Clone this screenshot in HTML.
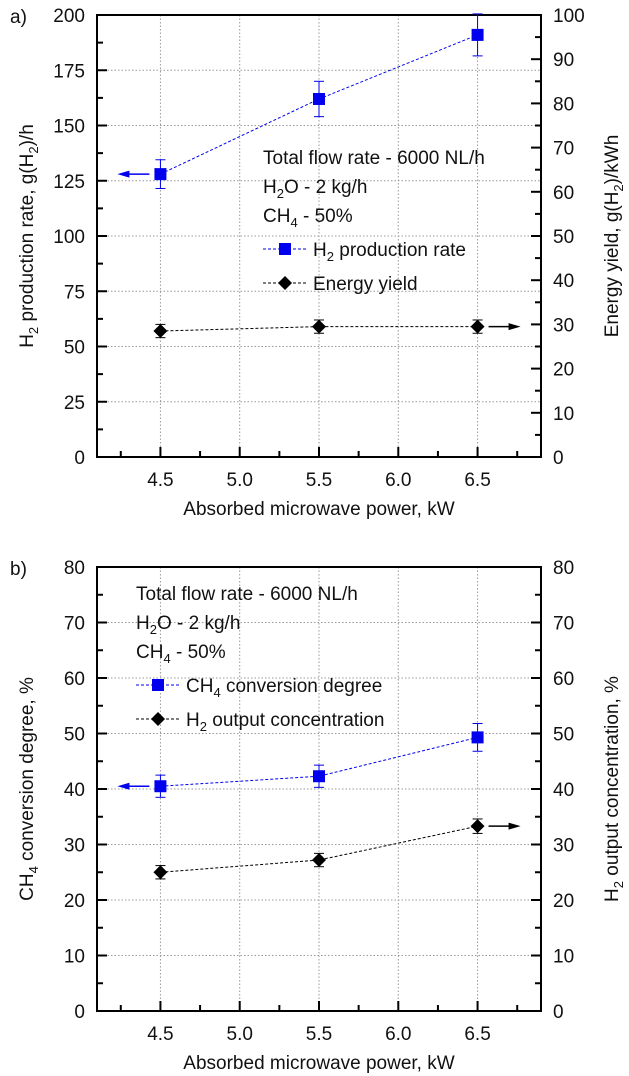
<!DOCTYPE html>
<html><head><meta charset="utf-8"><style>
html,body{margin:0;padding:0;background:#fff;}
svg{display:block;font-family:"Liberation Sans",Arial,sans-serif;}
</style></head><body>
<svg id="fig" width="629" height="1076" viewBox="0 0 629 1076"></svg>
<script>
const xCats=[4.5,5.5,6.5];
const xTicks=["4.5","5.0","5.5","6.0","6.5"];
const aLeftVals=[128,162,191];
const aLeftErr=[6.5,8,9.5];
const aRightVals=[28.5,29.5,29.5];
const aRightErr=[1.5,1.5,1.5];
const bLeftVals=[40.5,42.3,49.3];
const bLeftErr=[2,2,2.5];
const bRightVals=[25,27.2,33.3];
const bRightErr=[1.2,1.2,1.3];
const aLeftTicks=[0,25,50,75,100,125,150,175,200];
const aRightTicks=[0,10,20,30,40,50,60,70,80,90,100];
const bTicks=[0,10,20,30,40,50,60,70,80];

const NS="http://www.w3.org/2000/svg";
const svg=document.getElementById('fig');
const FS=19, SS=13;
function mk(tag,attrs,parent){const e=document.createElementNS(NS,tag);for(const k in attrs)e.setAttribute(k,attrs[k]);(parent||svg).appendChild(e);return e;}

function panel(o){
  const g=mk('g',{});
  
  
  const L=97,R=541,T=o.top,B=o.bottom;
  const sx=v=>L+(v-4.1)/(6.9-4.1)*(R-L);
  const syL=v=>B-(v-0)/(o.lmax)*(B-T);
  const syR=v=>B-(v-0)/(o.rmax)*(B-T);
  for(const t of xTicks){const x=sx(+t);mk('line',{x1:x,x2:x,y1:T,y2:B,stroke:'#999','stroke-dasharray':'1.5,2','stroke-width':1},g);}
  for(const t of o.gridTicks){if(t===0)continue;const y=syL(t);mk('line',{x1:L,x2:R,y1:y,y2:y,stroke:'#999','stroke-dasharray':'1.5,2','stroke-width':1},g);}
  const fr=mk('rect',{x:L,y:T,width:R-L,height:B-T,fill:'none',stroke:'#000','stroke-width':2},g);
  
  
  for(let v=4.25;v<6.9;v+=0.25){const x=sx(v);const maj=Math.abs(v*2-Math.round(v*2))<1e-6;mk('line',{x1:x,x2:x,y1:B,y2:B-(maj?10:6),stroke:'#000','stroke-width':2},g);}
  for(const t of xTicks){const tx=mk('text',{x:sx(+t),y:B+29,'font-size':FS,'text-anchor':'middle',fill:'#111'},g);tx.textContent=t;
    }
  const lt=o.leftTicks, ls=lt[1]-lt[0];
  for(let i=0;i<lt.length;i++){const y=syL(lt[i]);mk('line',{x1:L,x2:L+10,y1:y,y2:y,stroke:'#000','stroke-width':2},g);
    if(i<lt.length-1){const ym=syL(lt[i]+ls/2);mk('line',{x1:L,x2:L+6,y1:ym,y2:ym,stroke:'#000','stroke-width':2},g);}
    const tx=mk('text',{x:L-12,y:y+7,'font-size':FS,'text-anchor':'end',fill:'#111'},g);tx.textContent=lt[i];
    }
  const rt=o.rightTicks, rs=rt[1]-rt[0];
  for(let i=0;i<rt.length;i++){const y=syR(rt[i]);mk('line',{x1:R,x2:R-10,y1:y,y2:y,stroke:'#000','stroke-width':2},g);
    if(i<rt.length-1){const ym=syR(rt[i]+rs/2);mk('line',{x1:R,x2:R-6,y1:ym,y2:ym,stroke:'#000','stroke-width':2},g);}
    const tx=mk('text',{x:R+12,y:y+7,'font-size':FS,'text-anchor':'start',fill:'#111'},g);tx.textContent=rt[i];
    }
  function series(vals,err,sy,color,shape,nm){
    const pts=vals.map((v,i)=>sx(xCats[i])+','+sy(v)).join(' ');
    const pl=mk('polyline',{points:pts,fill:'none',stroke:color,'stroke-width':1,'stroke-dasharray':'3,2'},g);
    
    vals.forEach((v,i)=>{const x=sx(xCats[i]),y=sy(v),y1=sy(v+err[i]),y2=sy(v-err[i]);
      mk('line',{x1:x,x2:x,y1:y1,y2:y2,stroke:color,'stroke-width':1},g);
      mk('line',{x1:x-5,x2:x+5,y1:y1,y2:y1,stroke:color,'stroke-width':1},g);
      mk('line',{x1:x-5,x2:x+5,y1:y2,y2:y2,stroke:color,'stroke-width':1},g);
      let m;
      if(shape==='sq')m=mk('rect',{x:x-6,y:y-6,width:12,height:12,fill:color},g);
      else m=mk('polygon',{points:`${x},${y-7} ${x+7},${y} ${x},${y+7} ${x-7},${y}`,fill:color},g);
      });
  }
  series(o.lv,o.le,syL,'#0000ee','sq',o.lname);
  series(o.rv,o.re,syR,'#000','di',o.rname);
  const ay=syL(o.lv[0]), ax=sx(xCats[0])-11;
  mk('line',{x1:ax,x2:ax-22,y1:ay,y2:ay,stroke:'#0000ee','stroke-width':1.5},g);
  mk('polygon',{points:`${ax-32},${ay} ${ax-20},${ay-3.5} ${ax-20},${ay+3.5}`,fill:'#0000ee'},g);
  const by=syR(o.rv[2]), bx=sx(xCats[2])+11;
  mk('line',{x1:bx,x2:bx+22,y1:by,y2:by,stroke:'#000','stroke-width':1.5},g);
  mk('polygon',{points:`${bx+32},${by} ${bx+20},${by-3.5} ${bx+20},${by+3.5}`,fill:'#000'},g);
  const lx=o.legX, ly=o.legY;
  const lg=mk('g',{'font-size':FS,fill:'#111'},g);
  
  lg.innerHTML=`<text x="${lx}" y="${ly}">Total flow rate - 6000 NL/h</text>
<text x="${lx}" y="${ly+29}">H<tspan font-size="${SS}" dy="5">2</tspan><tspan dy="-5">O - 2 kg/h</tspan></text>
<text x="${lx}" y="${ly+58}">CH<tspan font-size="${SS}" dy="5">4</tspan><tspan dy="-5"> - 50%</tspan></text>
<line x1="${lx}" x2="${lx+44}" y1="${ly+85}" y2="${ly+85}" stroke="#0000ee" stroke-dasharray="3,2"/>
<rect x="${lx+16}" y="${ly+79}" width="12" height="12" fill="#0000ee"/>
<text x="${lx+50}" y="${ly+92}">${o.leg1}</text>
<line x1="${lx}" x2="${lx+44}" y1="${ly+119}" y2="${ly+119}" stroke="#000" stroke-dasharray="3,2"/>
<polygon points="${lx+22},${ly+112} ${lx+29},${ly+119} ${lx+22},${ly+126} ${lx+15},${ly+119}" fill="#000"/>
<text x="${lx+50}" y="${ly+126}">${o.leg2}</text>`;
  const pl=mk('text',{x:10,y:T+8,'font-size':FS,fill:'#111'},g);pl.textContent=o.letter;
  
  const xt=mk('text',{x:(L+R)/2,y:B+58,'font-size':FS,'text-anchor':'middle',fill:'#111'},g);xt.textContent='Absorbed microwave power, kW';
  
  const yl=mk('text',{transform:`translate(33,${(T+B)/2}) rotate(-90)`,'font-size':FS,'text-anchor':'middle',fill:'#111'},g);yl.innerHTML=o.ylab;
  
  const yr=mk('text',{transform:`translate(618,${(T+B)/2}) rotate(-90)`,'font-size':FS,'text-anchor':'middle',fill:'#111'},g);yr.innerHTML=o.yrab;
  
}
panel({name:'panel-a',top:15,bottom:457,lmax:200,rmax:100,gridTicks:aLeftTicks,leftTicks:aLeftTicks,rightTicks:aRightTicks,
  lv:aLeftVals,le:aLeftErr,rv:aRightVals,re:aRightErr,lname:'h2-production',rname:'energy-yield',legX:263,legY:164,
  leg1:'H<tspan font-size="13" dy="5">2</tspan><tspan dy="-5"> production rate</tspan>',leg2:'Energy yield',letter:'a)',
  ylab:'H<tspan font-size="13" dy="5">2</tspan><tspan dy="-5"> production rate, g(H</tspan><tspan font-size="13" dy="5">2</tspan><tspan dy="-5">)/h</tspan>',
  yrab:'Energy yield, g(H<tspan font-size="13" dy="5">2</tspan><tspan dy="-5">)/kWh</tspan>'});
panel({name:'panel-b',top:567,bottom:1011,lmax:80,rmax:80,gridTicks:bTicks,leftTicks:bTicks,rightTicks:bTicks,
  lv:bLeftVals,le:bLeftErr,rv:bRightVals,re:bRightErr,lname:'ch4-conversion',rname:'h2-concentration',legX:136,legY:600,
  leg1:'CH<tspan font-size="13" dy="5">4</tspan><tspan dy="-5"> conversion degree</tspan>',
  leg2:'H<tspan font-size="13" dy="5">2</tspan><tspan dy="-5"> output concentration</tspan>',letter:'b)',
  ylab:'CH<tspan font-size="13" dy="5">4</tspan><tspan dy="-5"> conversion degree, %</tspan>',
  yrab:'H<tspan font-size="13" dy="5">2</tspan><tspan dy="-5"> output concentration, %</tspan>'});
</script>
</body></html>
